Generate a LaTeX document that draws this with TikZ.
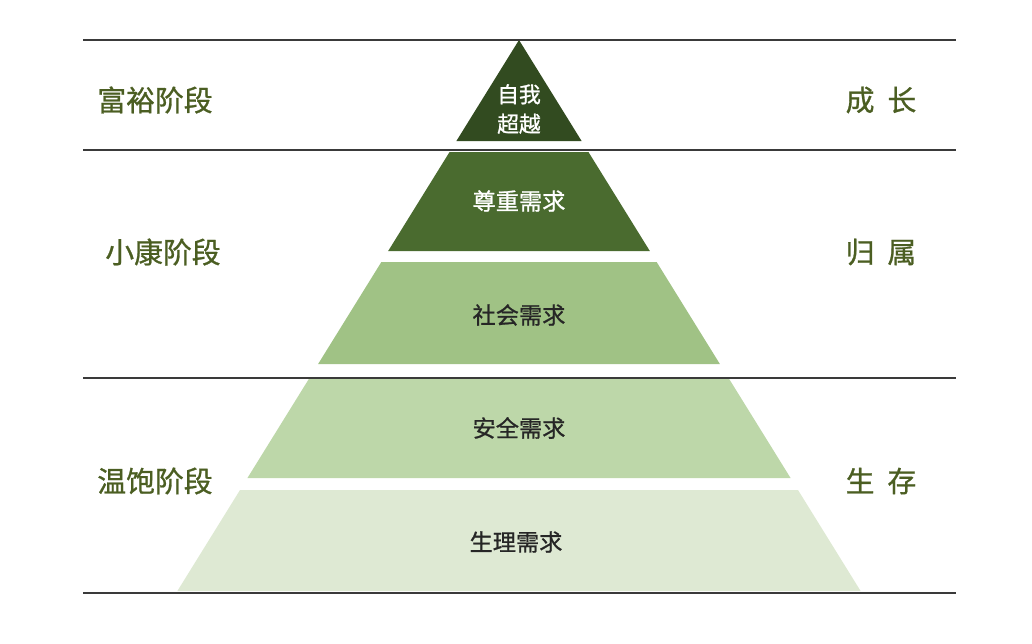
\documentclass[tikz,border=0pt]{standalone}
\usepackage{fontspec}
\newfontfamily\cjk{Noto Sans CJK SC}[FakeBold=0.9]
\definecolor{tierA}{HTML}{324B20}
\definecolor{tierB}{HTML}{4A6B2F}
\definecolor{tierC}{HTML}{A0C285}
\definecolor{tierD}{HTML}{BDD7A9}
\definecolor{tierE}{HTML}{DEE9D3}
\definecolor{olive}{HTML}{4B5E22}
\definecolor{rule}{HTML}{3A3A3A}
\tikzset{
  side/.style={font=\cjk\fontsize{20.5}{24}\selectfont, text=olive},
  inner/.style={font=\cjk\fontsize{16.5}{21}\selectfont, text=black!85, align=center},
}
\begin{document}
\begin{tikzpicture}[x=0.025cm,y=-0.025cm]
\useasboundingbox (0,0) rectangle (1032,644);
% pyramid tiers: top y / bottom y / colour
\fill[tierA] (519,40) -- (581.6,141) -- (456.4,141) -- cycle;
\foreach \t/\b/\c in {152/251/tierB,262/364/tierC,378/478/tierD,490/591/tierE}{
  \pgfmathsetmacro\wt{0.62*(\t-40)}
  \pgfmathsetmacro\wb{0.62*(\b-40)}
  \fill[\c] (519-\wt,\t) -- (519+\wt,\t) -- (519+\wb,\b) -- (519-\wb,\b) -- cycle;
}
% rules
\foreach \y in {40,150,378,593}
  \draw[rule,line width=2pt] (83,\y) -- (956,\y);
\node[inner,text=white,font=\cjk\fontsize{15.5}{21}\selectfont] (self) at (519,109) {自我\\超越};
\node[inner,text=white] (esteem) at (519,201) {尊重需求};
\node[inner] (social) at (519,315) {社会需求};
\node[inner] (safety) at (519,428) {安全需求};
\node[inner] (body) at (516,542) {生理需求};
\node[side] (rich) at (155,100) {富裕阶段};
\node[side] (mid) at (163,252) {小康阶段};
\node[side] (fed) at (155,481) {温饱阶段};
\node[side] (grow) at (881,100) {成\hspace{0.45em}长};
\node[side] (belong) at (881,252) {归\hspace{0.45em}属};
\node[side] (live) at (881,481) {生\hspace{0.45em}存};
\end{tikzpicture}
\end{document}
